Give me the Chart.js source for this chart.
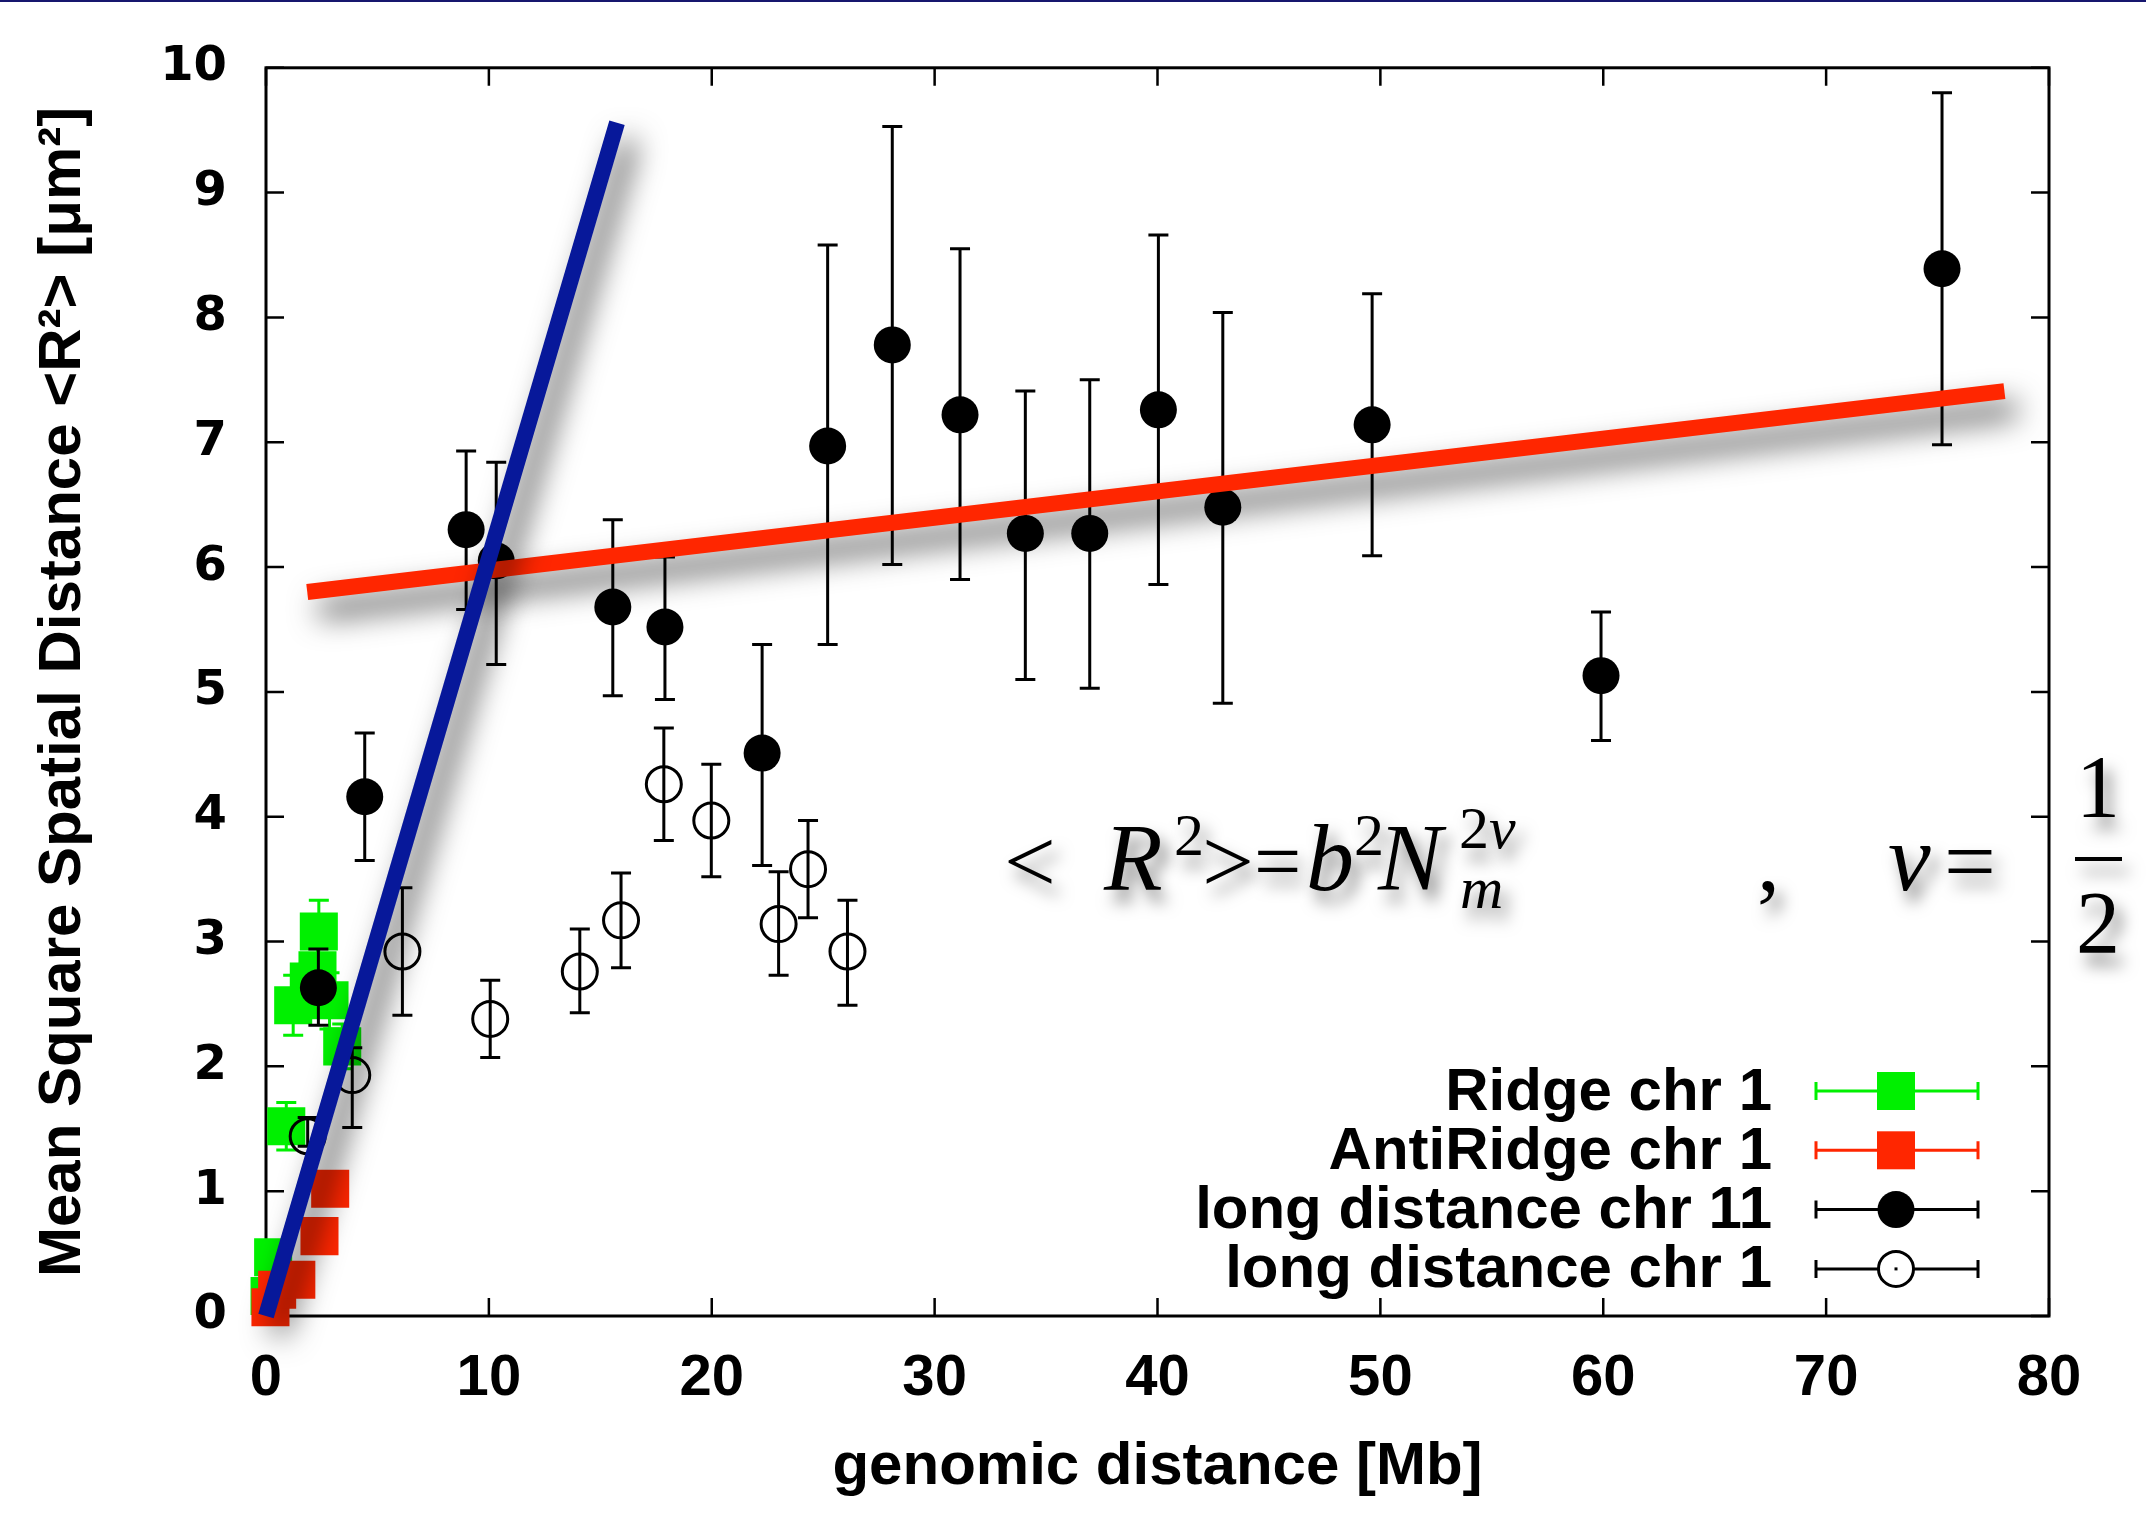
<!DOCTYPE html>
<html>
<head>
<meta charset="utf-8">
<script src="https://cdn.jsdelivr.net/npm/chart.js@4.4.1/dist/chart.umd.min.js"></script>
<style>
  html, body { margin: 0; padding: 0; background: #fff; }
  #wrap { width: 2146px; height: 1518px; }
</style>
</head>
<body>
<div id="wrap"><canvas id="myChart" width="2146" height="1518"></canvas></div>
<script>
// Ridge chr 1
const ridgeX  = [0.16, 0.32, 0.91, 1.22, 1.92, 2.31, 2.37, 2.85, 3.42];
const ridgeY  = [0.16, 0.47, 1.52, 2.49, 2.68, 2.77, 3.08, 2.53, 2.16];
const ridgeLo = [0.10, 0.40, 1.33, 2.25, 2.55, 2.60, 2.83, 2.30, 1.98];
const ridgeHi = [0.22, 0.54, 1.71, 2.73, 2.82, 2.95, 3.33, 2.75, 2.34];

// AntiRidge chr 1
const antiX  = [0.20, 0.50, 1.36, 2.40, 2.88];
const antiY  = [0.07, 0.21, 0.29, 0.64, 1.02];
const antiLo = [0.02, 0.14, 0.22, 0.56, 0.94];
const antiHi = [0.12, 0.28, 0.36, 0.72, 1.10];

// long distance chr 11
const chr11X  = [2.35, 4.43, 8.98, 10.33, 15.56, 17.9, 22.26, 25.2, 28.1, 31.14, 34.07, 36.96, 40.04, 42.93, 49.63, 59.9, 75.2];
const chr11Y  = [2.63, 4.16, 6.30, 6.05, 5.68, 5.52, 4.51, 6.97, 7.78, 7.22, 6.27, 6.27, 7.26, 6.48, 7.14, 5.13, 8.39];
const chr11Lo = [2.33, 3.65, 5.66, 5.22, 4.97, 4.94, 3.61, 5.38, 6.02, 5.90, 5.10, 5.03, 5.86, 4.91, 6.09, 4.61, 6.98];
const chr11Hi = [2.94, 4.67, 6.93, 6.84, 6.38, 6.08, 5.38, 8.58, 9.53, 8.55, 7.41, 7.50, 8.66, 8.04, 8.19, 5.64, 9.80];

// long distance chr 1
const chr1X  = [1.87, 3.87, 6.12, 10.06, 14.08, 15.93, 17.85, 19.98, 23.0, 24.32, 26.09];
const chr1Y  = [1.44, 1.93, 2.92, 2.38, 2.76, 3.17, 4.26, 3.97, 3.14, 3.58, 2.92];
const chr1Lo = [1.36, 1.51, 2.41, 2.07, 2.43, 2.79, 3.81, 3.52, 2.73, 3.19, 2.49];
const chr1Hi = [1.59, 2.15, 3.43, 2.69, 3.10, 3.55, 4.71, 4.42, 3.56, 3.97, 3.33];

// fit lines
const blueFitX = [0, 15.75];
const blueFitY = [0, 9.56];
const redFitX = [1.85, 78.0];
const redFitY = [5.80, 7.41];

const xTicks = [0, 10, 20, 30, 40, 50, 60, 70, 80];
const yTicks = [0, 1, 2, 3, 4, 5, 6, 7, 8, 9, 10];

const legendLabels = ['Ridge chr 1', 'AntiRidge chr 1', 'long distance chr 11', 'long distance chr 1'];

const GREEN = '#00f000';
const RED = '#ff2600';
const BLUE = '#07189a';

function pts(xs, ys) { return xs.map((x, i) => ({x: x, y: ys[i]})); }

function drawErr(chart, ds) {
  const c = chart.ctx, sx = chart.scales.x, sy = chart.scales.y;
  c.save();
  c.strokeStyle = ds.errColor;
  c.lineWidth = 3;
  ds.data.forEach((p, i) => {
    const px = sx.getPixelForValue(p.x);
    const y1 = sy.getPixelForValue(ds.errLo[i]);
    const y2 = sy.getPixelForValue(ds.errHi[i]);
    c.beginPath();
    c.moveTo(px, y1); c.lineTo(px, y2);
    c.moveTo(px - 10, y1); c.lineTo(px + 10, y1);
    c.moveTo(px - 10, y2); c.lineTo(px + 10, y2);
    c.stroke();
  });
  c.restore();
}

const layers = {
  id: 'layers',
  beforeDatasetsDraw(chart) {
    const {ctx, chartArea: a, scales: {x, y}} = chart;
    ctx.save();
    ctx.strokeStyle = '#000';
    ctx.lineWidth = 2.5;
    ctx.beginPath();
    xTicks.forEach(v => {
      const px = x.getPixelForValue(v);
      ctx.moveTo(px, a.bottom); ctx.lineTo(px, a.bottom - 18);
      ctx.moveTo(px, a.top); ctx.lineTo(px, a.top + 18);
    });
    yTicks.forEach(v => {
      const py = y.getPixelForValue(v);
      ctx.moveTo(a.left, py); ctx.lineTo(a.left + 18, py);
      ctx.moveTo(a.right, py); ctx.lineTo(a.right - 18, py);
    });
    ctx.stroke();
    ctx.lineWidth = 3;
    ctx.strokeRect(a.left, a.top, a.right - a.left, a.bottom - a.top);
    ctx.restore();
  },
  beforeDatasetDraw(chart, args) {
    const ds = chart.data.datasets[args.index];
    if (ds.errLo) drawErr(chart, ds);
    if (ds.shadow) {
      const c = chart.ctx;
      c.save();
      c.shadowColor = 'rgba(0,0,0,0.7)';
      c.shadowBlur = 30;
      c.shadowOffsetX = 12;
      c.shadowOffsetY = 18;
    }
  },
  afterDatasetDraw(chart, args) {
    const ds = chart.data.datasets[args.index];
    if (ds.shadow) chart.ctx.restore();
  },
  afterDraw(chart) {
    const c = chart.ctx;
    c.save();
    // thin frame line at the very top of the slide
    c.fillStyle = '#16166e';
    c.fillRect(0, 0, chart.width, 2);

    // legend
    const colors = [GREEN, RED, '#000', '#000'];
    c.font = 'bold 60px "Liberation Sans", Arial, sans-serif';
    c.textAlign = 'right';
    c.textBaseline = 'middle';
    legendLabels.forEach((lab, i) => {
      const yy = 1091 + i * 59.3;
      c.fillStyle = '#000';
      c.fillText(lab, 1772, yy + 2);
      c.strokeStyle = colors[i];
      c.lineWidth = 3;
      c.beginPath();
      c.moveTo(1816, yy); c.lineTo(1978, yy);
      c.moveTo(1816, yy - 9); c.lineTo(1816, yy + 9);
      c.moveTo(1978, yy - 9); c.lineTo(1978, yy + 9);
      c.stroke();
      if (i < 2) {
        c.fillStyle = colors[i];
        c.fillRect(1877, yy - 19, 38, 38);
      } else if (i === 2) {
        c.fillStyle = '#000';
        c.beginPath(); c.arc(1896, yy, 18.5, 0, Math.PI * 2); c.fill();
      } else {
        c.fillStyle = '#fff';
        c.beginPath(); c.arc(1896, yy, 17.5, 0, Math.PI * 2); c.fill(); c.stroke();
        c.beginPath(); c.moveTo(1896, yy - 1.5); c.lineTo(1896, yy + 1.5); c.stroke();
      }
    });

    // formula
    c.shadowColor = 'rgba(0,0,0,0.5)';
    c.shadowBlur = 16;
    c.shadowOffsetX = 7;
    c.shadowOffsetY = 12;
    c.fillStyle = '#000';
    c.textAlign = 'left';
    c.textBaseline = 'alphabetic';
    const rel = '92px "Liberation Serif", serif';
    const eq = '84px "Liberation Serif", serif';
    const bigI = 'italic 96px "Liberation Serif", serif';
    const sm = '60px "Liberation Serif", serif';
    const smI = 'italic 60px "Liberation Serif", serif';
    const parts = [
      ['<', rel, 1004, 892], ['R', bigI, 1104, 890], ['2', sm, 1174, 855],
      ['>', rel, 1202, 892], ['=', eq, 1254, 890], ['b', bigI, 1306, 890],
      ['2', sm, 1354, 855], ['N', bigI, 1378, 890], ['2', sm, 1459, 848], ['\u03BD', smI, 1489, 848],
      ['m', smI, 1460, 908], [',', rel, 1757, 890], ['\u03BD', bigI, 1888, 890], ['=', rel, 1944, 892]
    ];
    parts.forEach(p => { c.font = p[1]; c.fillText(p[0], p[2], p[3]); });
    c.font = '88px "Liberation Serif", serif';
    c.textAlign = 'center';
    c.fillText('1', 2098, 816);
    c.fillRect(2075, 857, 47, 4);
    c.fillText('2', 2098, 952);
    c.restore();
  }
};

const ctx = document.getElementById('myChart');

const data = {
  datasets: [
    {
      label: legendLabels[0], data: pts(ridgeX, ridgeY), errLo: ridgeLo, errHi: ridgeHi, errColor: GREEN,
      pointStyle: 'rect', pointRadius: 26.9, backgroundColor: GREEN, borderWidth: 0, order: 6, clip: false
    },
    {
      label: legendLabels[1], data: pts(antiX, antiY), errLo: antiLo, errHi: antiHi, errColor: RED,
      pointStyle: 'rect', pointRadius: 26.9, backgroundColor: RED, borderWidth: 0, order: 5, clip: false
    },
    {
      label: legendLabels[2], data: pts(chr11X, chr11Y), errLo: chr11Lo, errHi: chr11Hi, errColor: '#000',
      pointStyle: 'circle', pointRadius: 18.5, backgroundColor: '#000', borderWidth: 0, order: 4, clip: false
    },
    {
      label: legendLabels[3], data: pts(chr1X, chr1Y), errLo: chr1Lo, errHi: chr1Hi, errColor: '#000',
      pointStyle: 'circle', pointRadius: 17.5, backgroundColor: 'rgba(0,0,0,0)', borderColor: '#000',
      borderWidth: 3, order: 3, clip: false
    },
    {
      label: 'fit long', data: pts(redFitX, redFitY), showLine: true, pointRadius: 0,
      borderColor: RED, borderWidth: 16, borderCapStyle: 'butt', shadow: true, order: 2, clip: false
    },
    {
      label: 'fit short', data: pts(blueFitX, blueFitY), showLine: true, pointRadius: 0,
      borderColor: BLUE, borderWidth: 16, borderCapStyle: 'butt', shadow: true, order: 1, clip: false
    }
  ]
};

const config = {
  type: 'scatter',
  data: data,
  options: {
    responsive: false,
    animation: false,
    events: [],
    devicePixelRatio: 1,
    layout: { padding: { left: 0, right: 97, top: 62, bottom: 0 } },
    plugins: { legend: { display: false }, tooltip: { enabled: false } },
    scales: {
      x: {
        type: 'linear', min: 0, max: 80,
        afterFit: s => { s.height = 202; },
        grid: { display: false, drawTicks: false },
        border: { display: false },
        ticks: {
          stepSize: 10, padding: 28, maxRotation: 0, color: '#000',
          font: { family: '"Liberation Sans", Arial, sans-serif', weight: 'bold', size: 58 }
        },
        title: {
          display: true, text: 'genomic distance [Mb]', color: '#000',
          padding: { top: 0, bottom: 15 },
          font: { family: '"Liberation Sans", Arial, sans-serif', weight: 'bold', size: 60 }
        }
      },
      y: {
        type: 'linear', min: 0, max: 10,
        afterFit: s => { s.width = 266; },
        grid: { display: false, drawTicks: false },
        border: { display: false },
        ticks: {
          stepSize: 1, padding: 39, color: '#000',
          font: { family: '"DejaVu Sans", sans-serif', weight: 'bold', size: 48 }
        },
        title: {
          display: true, text: 'Mean Square Spatial Distance <R\u00B2> [\u03BCm\u00B2]', color: '#000',
          padding: { top: 27, bottom: 0 },
          font: { family: '"Liberation Sans", Arial, sans-serif', weight: 'bold', size: 60 }
        }
      }
    }
  },
  plugins: [layers]
};

new Chart(ctx, config);
</script>
</body>
</html>
